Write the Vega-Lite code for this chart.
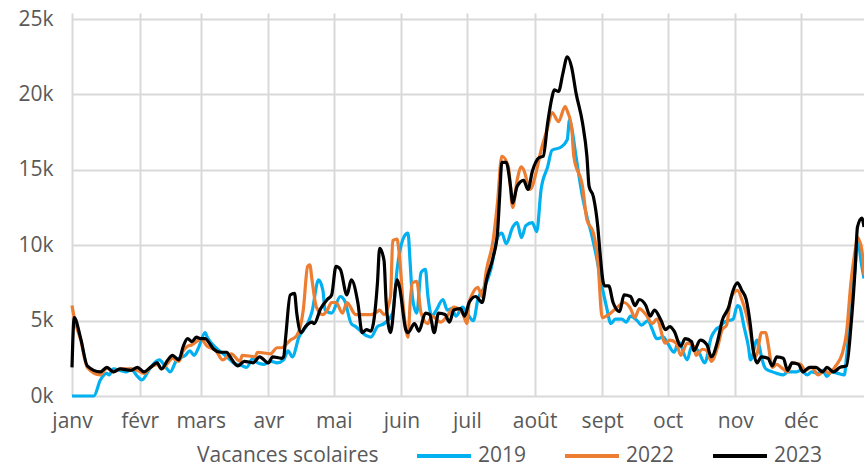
{
  "$schema": "https://vega.github.io/schema/vega-lite/v6.json",
  "width": 792,
  "height": 383,
  "autosize": "none",
  "padding": {"left": 72, "top": 13, "right": 0, "bottom": 71},
  "background": "white",
  "config": {
    "view": {"stroke": null},
    "font": "Open Sans",
    "axis": {"labelFont": "Open Sans", "labelFontSize": 21, "labelColor": "#595959", "gridColor": "#d9d9d9", "gridWidth": 2, "domain": false, "ticks": false, "title": null},
    "legend": {"labelFont": "Open Sans", "labelFontSize": 21, "labelColor": "#595959"}
  },
  "data": {"values": [
{"annee":"2019","jour":0,"valeur":0},{"annee":"2019","jour":10,"valeur":0},{"annee":"2019","jour":13,"valeur":1060},{"annee":"2019","jour":16,"valeur":1500},{"annee":"2019","jour":17,"valeur":1400},{"annee":"2019","jour":19,"valeur":1800},{"annee":"2019","jour":22,"valeur":1700},{"annee":"2019","jour":25,"valeur":1600},{"annee":"2019","jour":27,"valeur":1800},{"annee":"2019","jour":30,"valeur":1300},{"annee":"2019","jour":32,"valeur":1060},{"annee":"2019","jour":36,"valeur":1900},{"annee":"2019","jour":40,"valeur":2400},{"annee":"2019","jour":43,"valeur":1900},{"annee":"2019","jour":45,"valeur":1600},{"annee":"2019","jour":48,"valeur":2400},{"annee":"2019","jour":52,"valeur":2700},{"annee":"2019","jour":54,"valeur":3000},{"annee":"2019","jour":56,"valeur":2700},{"annee":"2019","jour":58,"valeur":3200},{"annee":"2019","jour":61,"valeur":4200},{"annee":"2019","jour":62,"valeur":3900},{"annee":"2019","jour":66,"valeur":3200},{"annee":"2019","jour":71,"valeur":2600},{"annee":"2019","jour":74,"valeur":2200},{"annee":"2019","jour":78,"valeur":2000},{"annee":"2019","jour":80,"valeur":1900},{"annee":"2019","jour":83,"valeur":2500},{"annee":"2019","jour":85,"valeur":2200},{"annee":"2019","jour":88,"valeur":2100},{"annee":"2019","jour":91,"valeur":2300},{"annee":"2019","jour":94,"valeur":2200},{"annee":"2019","jour":97,"valeur":2400},{"annee":"2019","jour":99,"valeur":3000},{"annee":"2019","jour":101,"valeur":2600},{"annee":"2019","jour":104,"valeur":3900},{"annee":"2019","jour":108,"valeur":4800},{"annee":"2019","jour":110,"valeur":5600},{"annee":"2019","jour":113,"valeur":7700},{"annee":"2019","jour":115,"valeur":7000},{"annee":"2019","jour":116,"valeur":5700},{"annee":"2019","jour":119,"valeur":5500},{"annee":"2019","jour":123,"valeur":6600},{"annee":"2019","jour":125,"valeur":6300},{"annee":"2019","jour":128,"valeur":4800},{"annee":"2019","jour":130,"valeur":4600},{"annee":"2019","jour":135,"valeur":4000},{"annee":"2019","jour":137,"valeur":3900},{"annee":"2019","jour":140,"valeur":4600},{"annee":"2019","jour":143,"valeur":4800},{"annee":"2019","jour":147,"valeur":5500},{"annee":"2019","jour":149,"valeur":8400},{"annee":"2019","jour":152,"valeur":10500},{"annee":"2019","jour":154,"valeur":10800},{"annee":"2019","jour":155,"valeur":8800},{"annee":"2019","jour":156,"valeur":6600},{"annee":"2019","jour":158,"valeur":5500},{"annee":"2019","jour":160,"valeur":8200},{"annee":"2019","jour":162,"valeur":8400},{"annee":"2019","jour":163,"valeur":6800},{"annee":"2019","jour":165,"valeur":5300},{"annee":"2019","jour":167,"valeur":5700},{"annee":"2019","jour":170,"valeur":6400},{"annee":"2019","jour":172,"valeur":5700},{"annee":"2019","jour":174,"valeur":5800},{"annee":"2019","jour":176,"valeur":5300},{"annee":"2019","jour":179,"valeur":5900},{"annee":"2019","jour":181,"valeur":5500},{"annee":"2019","jour":184,"valeur":5000},{"annee":"2019","jour":186,"valeur":6400},{"annee":"2019","jour":189,"valeur":7200},{"annee":"2019","jour":192,"valeur":8400},{"annee":"2019","jour":195,"valeur":10500},{"annee":"2019","jour":197,"valeur":10800},{"annee":"2019","jour":199,"valeur":10100},{"annee":"2019","jour":202,"valeur":11200},{"annee":"2019","jour":204,"valeur":11500},{"annee":"2019","jour":206,"valeur":10500},{"annee":"2019","jour":208,"valeur":11300},{"annee":"2019","jour":211,"valeur":11500},{"annee":"2019","jour":213,"valeur":10900},{"annee":"2019","jour":215,"valeur":13700},{"annee":"2019","jour":218,"valeur":15200},{"annee":"2019","jour":220,"valeur":16300},{"annee":"2019","jour":224,"valeur":16500},{"annee":"2019","jour":227,"valeur":17000},{"annee":"2019","jour":228,"valeur":18300},{"annee":"2019","jour":229,"valeur":17800},{"annee":"2019","jour":231,"valeur":15900},{"annee":"2019","jour":234,"valeur":13200},{"annee":"2019","jour":236,"valeur":11900},{"annee":"2019","jour":238,"valeur":10800},{"annee":"2019","jour":240,"valeur":9500},{"annee":"2019","jour":243,"valeur":7200},{"annee":"2019","jour":245,"valeur":5900},{"annee":"2019","jour":247,"valeur":4800},{"annee":"2019","jour":249,"valeur":5100},{"annee":"2019","jour":252,"valeur":5100},{"annee":"2019","jour":254,"valeur":4900},{"annee":"2019","jour":256,"valeur":5300},{"annee":"2019","jour":259,"valeur":5000},{"annee":"2019","jour":261,"valeur":4700},{"annee":"2019","jour":264,"valeur":5000},{"annee":"2019","jour":266,"valeur":4400},{"annee":"2019","jour":268,"valeur":3800},{"annee":"2019","jour":271,"valeur":3900},{"annee":"2019","jour":273,"valeur":3500},{"annee":"2019","jour":276,"valeur":2900},{"annee":"2019","jour":278,"valeur":3600},{"annee":"2019","jour":282,"valeur":2400},{"annee":"2019","jour":284,"valeur":3300},{"annee":"2019","jour":287,"valeur":3000},{"annee":"2019","jour":290,"valeur":2200},{"annee":"2019","jour":293,"valeur":3900},{"annee":"2019","jour":295,"valeur":4400},{"annee":"2019","jour":297,"valeur":4600},{"annee":"2019","jour":299,"valeur":4900},{"annee":"2019","jour":301,"valeur":5000},{"annee":"2019","jour":303,"valeur":5100},{"annee":"2019","jour":305,"valeur":6000},{"annee":"2019","jour":306,"valeur":5900},{"annee":"2019","jour":308,"valeur":4600},{"annee":"2019","jour":310,"valeur":3300},{"annee":"2019","jour":311,"valeur":2400},{"annee":"2019","jour":314,"valeur":3700},{"annee":"2019","jour":315,"valeur":3300},{"annee":"2019","jour":316,"valeur":2600},{"annee":"2019","jour":318,"valeur":1800},{"annee":"2019","jour":321,"valeur":1600},{"annee":"2019","jour":323,"valeur":1500},{"annee":"2019","jour":326,"valeur":1400},{"annee":"2019","jour":328,"valeur":1600},{"annee":"2019","jour":332,"valeur":1600},{"annee":"2019","jour":334,"valeur":1700},{"annee":"2019","jour":337,"valeur":1400},{"annee":"2019","jour":339,"valeur":1600},{"annee":"2019","jour":342,"valeur":1500},{"annee":"2019","jour":344,"valeur":1700},{"annee":"2019","jour":346,"valeur":1300},{"annee":"2019","jour":348,"valeur":1600},{"annee":"2019","jour":351,"valeur":1500},{"annee":"2019","jour":354,"valeur":1400},{"annee":"2019","jour":355,"valeur":2600},{"annee":"2019","jour":357,"valeur":5700},{"annee":"2019","jour":359,"valeur":8600},{"annee":"2019","jour":360,"valeur":10300},{"annee":"2019","jour":362,"valeur":8600},{"annee":"2019","jour":363,"valeur":7800},
{"annee":"2022","jour":0,"valeur":6000},{"annee":"2022","jour":1,"valeur":5200},{"annee":"2022","jour":4,"valeur":3700},{"annee":"2022","jour":7,"valeur":1900},{"annee":"2022","jour":13,"valeur":1400},{"annee":"2022","jour":16,"valeur":1850},{"annee":"2022","jour":19,"valeur":1600},{"annee":"2022","jour":22,"valeur":1800},{"annee":"2022","jour":27,"valeur":1800},{"annee":"2022","jour":30,"valeur":1700},{"annee":"2022","jour":33,"valeur":1500},{"annee":"2022","jour":36,"valeur":1900},{"annee":"2022","jour":39,"valeur":2100},{"annee":"2022","jour":41,"valeur":1800},{"annee":"2022","jour":44,"valeur":2200},{"annee":"2022","jour":46,"valeur":2500},{"annee":"2022","jour":49,"valeur":2300},{"annee":"2022","jour":51,"valeur":3000},{"annee":"2022","jour":53,"valeur":3300},{"annee":"2022","jour":55,"valeur":3400},{"annee":"2022","jour":57,"valeur":3600},{"annee":"2022","jour":59,"valeur":3800},{"annee":"2022","jour":62,"valeur":3300},{"annee":"2022","jour":66,"valeur":3000},{"annee":"2022","jour":69,"valeur":2400},{"annee":"2022","jour":73,"valeur":2800},{"annee":"2022","jour":77,"valeur":2300},{"annee":"2022","jour":78,"valeur":2700},{"annee":"2022","jour":84,"valeur":2600},{"annee":"2022","jour":85,"valeur":2900},{"annee":"2022","jour":91,"valeur":2800},{"annee":"2022","jour":94,"valeur":3200},{"annee":"2022","jour":96,"valeur":3200},{"annee":"2022","jour":100,"valeur":3700},{"annee":"2022","jour":103,"valeur":4000},{"annee":"2022","jour":106,"valeur":5700},{"annee":"2022","jour":108,"valeur":8600},{"annee":"2022","jour":109,"valeur":8700},{"annee":"2022","jour":110,"valeur":7700},{"annee":"2022","jour":112,"valeur":5900},{"annee":"2022","jour":115,"valeur":5400},{"annee":"2022","jour":117,"valeur":5700},{"annee":"2022","jour":119,"valeur":6200},{"annee":"2022","jour":121,"valeur":6200},{"annee":"2022","jour":124,"valeur":5500},{"annee":"2022","jour":126,"valeur":6200},{"annee":"2022","jour":130,"valeur":5400},{"annee":"2022","jour":133,"valeur":5400},{"annee":"2022","jour":137,"valeur":5400},{"annee":"2022","jour":140,"valeur":5600},{"annee":"2022","jour":141,"valeur":5700},{"annee":"2022","jour":143,"valeur":5400},{"annee":"2022","jour":146,"valeur":6600},{"annee":"2022","jour":147,"valeur":10300},{"annee":"2022","jour":149,"valeur":10400},{"annee":"2022","jour":150,"valeur":9400},{"annee":"2022","jour":152,"valeur":5700},{"annee":"2022","jour":154,"valeur":3900},{"annee":"2022","jour":155,"valeur":6200},{"annee":"2022","jour":156,"valeur":7500},{"annee":"2022","jour":158,"valeur":7600},{"annee":"2022","jour":160,"valeur":5500},{"annee":"2022","jour":163,"valeur":4800},{"annee":"2022","jour":165,"valeur":5300},{"annee":"2022","jour":169,"valeur":4900},{"annee":"2022","jour":172,"valeur":5300},{"annee":"2022","jour":175,"valeur":5900},{"annee":"2022","jour":179,"valeur":5500},{"annee":"2022","jour":181,"valeur":4800},{"annee":"2022","jour":182,"valeur":6200},{"annee":"2022","jour":183,"valeur":6600},{"annee":"2022","jour":186,"valeur":7200},{"annee":"2022","jour":188,"valeur":6600},{"annee":"2022","jour":190,"valeur":8400},{"annee":"2022","jour":193,"valeur":10300},{"annee":"2022","jour":195,"valeur":12800},{"annee":"2022","jour":197,"valeur":15900},{"annee":"2022","jour":200,"valeur":15200},{"annee":"2022","jour":202,"valeur":12500},{"annee":"2022","jour":204,"valeur":14300},{"annee":"2022","jour":206,"valeur":15200},{"annee":"2022","jour":207,"valeur":15000},{"annee":"2022","jour":210,"valeur":13700},{"annee":"2022","jour":213,"valeur":15000},{"annee":"2022","jour":215,"valeur":16300},{"annee":"2022","jour":218,"valeur":17800},{"annee":"2022","jour":220,"valeur":18800},{"annee":"2022","jour":223,"valeur":18200},{"annee":"2022","jour":226,"valeur":19200},{"annee":"2022","jour":227,"valeur":18900},{"annee":"2022","jour":229,"valeur":17800},{"annee":"2022","jour":230,"valeur":15900},{"annee":"2022","jour":234,"valeur":13900},{"annee":"2022","jour":236,"valeur":11700},{"annee":"2022","jour":239,"valeur":10800},{"annee":"2022","jour":241,"valeur":9000},{"annee":"2022","jour":243,"valeur":5200},{"annee":"2022","jour":246,"valeur":5400},{"annee":"2022","jour":250,"valeur":5900},{"annee":"2022","jour":253,"valeur":6200},{"annee":"2022","jour":256,"valeur":5800},{"annee":"2022","jour":258,"valeur":5200},{"annee":"2022","jour":260,"valeur":5800},{"annee":"2022","jour":263,"valeur":5400},{"annee":"2022","jour":266,"valeur":4800},{"annee":"2022","jour":268,"valeur":5100},{"annee":"2022","jour":272,"valeur":3500},{"annee":"2022","jour":274,"valeur":3700},{"annee":"2022","jour":277,"valeur":3500},{"annee":"2022","jour":279,"valeur":2700},{"annee":"2022","jour":282,"valeur":3500},{"annee":"2022","jour":285,"valeur":3300},{"annee":"2022","jour":286,"valeur":2700},{"annee":"2022","jour":289,"valeur":3100},{"annee":"2022","jour":291,"valeur":3000},{"annee":"2022","jour":293,"valeur":2300},{"annee":"2022","jour":296,"valeur":3300},{"annee":"2022","jour":298,"valeur":4400},{"annee":"2022","jour":300,"valeur":4700},{"annee":"2022","jour":302,"valeur":6500},{"annee":"2022","jour":305,"valeur":7000},{"annee":"2022","jour":307,"valeur":6400},{"annee":"2022","jour":311,"valeur":4200},{"annee":"2022","jour":313,"valeur":2600},{"annee":"2022","jour":314,"valeur":2800},{"annee":"2022","jour":316,"valeur":4200},{"annee":"2022","jour":318,"valeur":4200},{"annee":"2022","jour":319,"valeur":3500},{"annee":"2022","jour":321,"valeur":1900},{"annee":"2022","jour":323,"valeur":2100},{"annee":"2022","jour":325,"valeur":1900},{"annee":"2022","jour":328,"valeur":1600},{"annee":"2022","jour":330,"valeur":2200},{"annee":"2022","jour":334,"valeur":2100},{"annee":"2022","jour":336,"valeur":1700},{"annee":"2022","jour":339,"valeur":1900},{"annee":"2022","jour":342,"valeur":1400},{"annee":"2022","jour":345,"valeur":1700},{"annee":"2022","jour":347,"valeur":1500},{"annee":"2022","jour":350,"valeur":2000},{"annee":"2022","jour":353,"valeur":2800},{"annee":"2022","jour":355,"valeur":4200},{"annee":"2022","jour":357,"valeur":7500},{"annee":"2022","jour":359,"valeur":9700},{"annee":"2022","jour":360,"valeur":10500},{"annee":"2022","jour":362,"valeur":9700},{"annee":"2022","jour":363,"valeur":8000},
{"annee":"2023","jour":0,"valeur":1900},{"annee":"2023","jour":1,"valeur":5200},{"annee":"2023","jour":4,"valeur":3800},{"annee":"2023","jour":7,"valeur":2000},{"annee":"2023","jour":13,"valeur":1600},{"annee":"2023","jour":16,"valeur":1900},{"annee":"2023","jour":19,"valeur":1600},{"annee":"2023","jour":22,"valeur":1800},{"annee":"2023","jour":27,"valeur":1700},{"annee":"2023","jour":30,"valeur":1900},{"annee":"2023","jour":33,"valeur":1600},{"annee":"2023","jour":36,"valeur":1900},{"annee":"2023","jour":39,"valeur":2200},{"annee":"2023","jour":41,"valeur":1800},{"annee":"2023","jour":44,"valeur":2400},{"annee":"2023","jour":46,"valeur":2700},{"annee":"2023","jour":49,"valeur":2400},{"annee":"2023","jour":51,"valeur":3300},{"annee":"2023","jour":53,"valeur":3800},{"annee":"2023","jour":55,"valeur":3600},{"annee":"2023","jour":57,"valeur":3900},{"annee":"2023","jour":59,"valeur":3800},{"annee":"2023","jour":61,"valeur":3800},{"annee":"2023","jour":63,"valeur":3500},{"annee":"2023","jour":65,"valeur":3100},{"annee":"2023","jour":68,"valeur":2900},{"annee":"2023","jour":71,"valeur":2900},{"annee":"2023","jour":72,"valeur":2700},{"annee":"2023","jour":76,"valeur":2000},{"annee":"2023","jour":79,"valeur":2300},{"annee":"2023","jour":83,"valeur":2200},{"annee":"2023","jour":86,"valeur":2600},{"annee":"2023","jour":90,"valeur":2200},{"annee":"2023","jour":92,"valeur":2600},{"annee":"2023","jour":96,"valeur":2500},{"annee":"2023","jour":97,"valeur":2600},{"annee":"2023","jour":98,"valeur":4000},{"annee":"2023","jour":100,"valeur":6700},{"annee":"2023","jour":102,"valeur":6800},{"annee":"2023","jour":103,"valeur":5500},{"annee":"2023","jour":105,"valeur":4200},{"annee":"2023","jour":107,"valeur":4600},{"annee":"2023","jour":110,"valeur":4900},{"annee":"2023","jour":111,"valeur":4800},{"annee":"2023","jour":114,"valeur":5800},{"annee":"2023","jour":117,"valeur":6400},{"annee":"2023","jour":119,"valeur":6700},{"annee":"2023","jour":121,"valeur":8600},{"annee":"2023","jour":123,"valeur":8400},{"annee":"2023","jour":126,"valeur":6700},{"annee":"2023","jour":128,"valeur":7700},{"annee":"2023","jour":131,"valeur":6200},{"annee":"2023","jour":133,"valeur":4200},{"annee":"2023","jour":135,"valeur":4400},{"annee":"2023","jour":137,"valeur":4300},{"annee":"2023","jour":140,"valeur":7500},{"annee":"2023","jour":141,"valeur":9800},{"annee":"2023","jour":143,"valeur":9000},{"annee":"2023","jour":144,"valeur":6200},{"annee":"2023","jour":146,"valeur":4200},{"annee":"2023","jour":149,"valeur":7700},{"annee":"2023","jour":150,"valeur":7300},{"annee":"2023","jour":153,"valeur":4400},{"annee":"2023","jour":154,"valeur":4200},{"annee":"2023","jour":157,"valeur":4800},{"annee":"2023","jour":159,"valeur":4300},{"annee":"2023","jour":162,"valeur":5500},{"annee":"2023","jour":164,"valeur":5400},{"annee":"2023","jour":166,"valeur":4200},{"annee":"2023","jour":168,"valeur":5500},{"annee":"2023","jour":171,"valeur":5400},{"annee":"2023","jour":173,"valeur":4900},{"annee":"2023","jour":175,"valeur":5700},{"annee":"2023","jour":178,"valeur":5800},{"annee":"2023","jour":180,"valeur":5300},{"annee":"2023","jour":182,"valeur":6200},{"annee":"2023","jour":185,"valeur":6600},{"annee":"2023","jour":188,"valeur":6200},{"annee":"2023","jour":190,"valeur":7700},{"annee":"2023","jour":193,"valeur":9200},{"annee":"2023","jour":195,"valeur":10800},{"annee":"2023","jour":196,"valeur":13200},{"annee":"2023","jour":197,"valeur":15500},{"annee":"2023","jour":199,"valeur":15500},{"annee":"2023","jour":201,"valeur":13900},{"annee":"2023","jour":202,"valeur":12800},{"annee":"2023","jour":204,"valeur":13900},{"annee":"2023","jour":207,"valeur":14300},{"annee":"2023","jour":209,"valeur":13700},{"annee":"2023","jour":211,"valeur":14900},{"annee":"2023","jour":214,"valeur":15800},{"annee":"2023","jour":216,"valeur":15900},{"annee":"2023","jour":218,"valeur":18100},{"annee":"2023","jour":220,"valeur":19800},{"annee":"2023","jour":221,"valeur":20300},{"annee":"2023","jour":223,"valeur":20200},{"annee":"2023","jour":225,"valeur":21400},{"annee":"2023","jour":227,"valeur":22500},{"annee":"2023","jour":229,"valeur":21800},{"annee":"2023","jour":231,"valeur":20100},{"annee":"2023","jour":234,"valeur":18100},{"annee":"2023","jour":236,"valeur":15900},{"annee":"2023","jour":237,"valeur":13900},{"annee":"2023","jour":239,"valeur":13200},{"annee":"2023","jour":241,"valeur":11200},{"annee":"2023","jour":242,"valeur":9500},{"annee":"2023","jour":244,"valeur":7300},{"annee":"2023","jour":246,"valeur":7300},{"annee":"2023","jour":248,"valeur":6200},{"annee":"2023","jour":251,"valeur":5600},{"annee":"2023","jour":253,"valeur":6700},{"annee":"2023","jour":256,"valeur":6600},{"annee":"2023","jour":258,"valeur":6000},{"annee":"2023","jour":260,"valeur":6400},{"annee":"2023","jour":263,"valeur":6000},{"annee":"2023","jour":265,"valeur":5300},{"annee":"2023","jour":267,"valeur":5700},{"annee":"2023","jour":270,"valeur":5000},{"annee":"2023","jour":272,"valeur":4400},{"annee":"2023","jour":274,"valeur":4600},{"annee":"2023","jour":276,"valeur":4300},{"annee":"2023","jour":279,"valeur":3300},{"annee":"2023","jour":281,"valeur":3800},{"annee":"2023","jour":284,"valeur":3600},{"annee":"2023","jour":285,"valeur":3000},{"annee":"2023","jour":288,"valeur":3700},{"annee":"2023","jour":291,"valeur":3400},{"annee":"2023","jour":293,"valeur":2600},{"annee":"2023","jour":296,"valeur":3700},{"annee":"2023","jour":298,"valeur":5000},{"annee":"2023","jour":301,"valeur":5900},{"annee":"2023","jour":303,"valeur":7000},{"annee":"2023","jour":305,"valeur":7500},{"annee":"2023","jour":307,"valeur":7000},{"annee":"2023","jour":309,"valeur":6400},{"annee":"2023","jour":311,"valeur":4600},{"annee":"2023","jour":312,"valeur":3300},{"annee":"2023","jour":314,"valeur":2200},{"annee":"2023","jour":316,"valeur":2600},{"annee":"2023","jour":319,"valeur":2500},{"annee":"2023","jour":321,"valeur":2000},{"annee":"2023","jour":323,"valeur":2600},{"annee":"2023","jour":326,"valeur":2500},{"annee":"2023","jour":328,"valeur":1700},{"annee":"2023","jour":330,"valeur":2200},{"annee":"2023","jour":333,"valeur":2100},{"annee":"2023","jour":335,"valeur":1600},{"annee":"2023","jour":338,"valeur":1900},{"annee":"2023","jour":341,"valeur":1900},{"annee":"2023","jour":344,"valeur":1600},{"annee":"2023","jour":346,"valeur":1900},{"annee":"2023","jour":349,"valeur":1600},{"annee":"2023","jour":352,"valeur":1900},{"annee":"2023","jour":355,"valeur":2000},{"annee":"2023","jour":357,"valeur":4600},{"annee":"2023","jour":359,"valeur":8600},{"annee":"2023","jour":360,"valeur":11200},{"annee":"2023","jour":362,"valeur":11800},{"annee":"2023","jour":363,"valeur":11200}
  ]},
  "encoding": {
    "x": {"field": "jour", "type": "quantitative", "scale": {"domain": [0, 363], "nice": false, "zero": false},
      "axis": {"values": [0,31,59,90,120,151,181,212,243,273,304,334], "labelExpr": "['janv','févr','mars','avr','mai','juin','juil','août','sept','oct','nov','déc'][indexof([0,31,59,90,120,151,181,212,243,273,304,334], datum.value)]", "labelFlush": false, "labelOverlap": false, "labelBound": false, "labelPadding": 14}},
    "y": {"field": "valeur", "type": "quantitative", "scale": {"domain": [0, 25400], "nice": false},
      "axis": {"values": [0,5000,10000,15000,20000,25000], "labelExpr": "datum.value/1000 + 'k'", "labelPadding": 19}},
    "color": {"field": "annee", "type": "nominal",
      "scale": {"domain": ["Vacances scolaires", "2019", "2022", "2023"], "range": ["rgba(0,0,0,0)", "#00b0f0", "#ed7d31", "#000000"]},
      "legend": {"title": null, "orient": "none", "direction": "horizontal", "legendX": 62, "legendY": 414, "padding": 0, "symbolType": "stroke", "symbolSize": 2916, "symbolStrokeWidth": 4, "labelOffset": 5, "columnPadding": 30, "labelLimit": 400}}
  },
  "layer": [
    {"transform": [{"filter": "datum.annee == '2019'"}], "mark": {"type": "line", "strokeWidth": 3.2, "interpolate": "monotone"}},
    {"transform": [{"filter": "datum.annee == '2022'"}], "mark": {"type": "line", "strokeWidth": 3.2, "interpolate": "monotone"}},
    {"transform": [{"filter": "datum.annee == '2023'"}], "mark": {"type": "line", "strokeWidth": 3.2, "interpolate": "monotone"}}
  ]
}
